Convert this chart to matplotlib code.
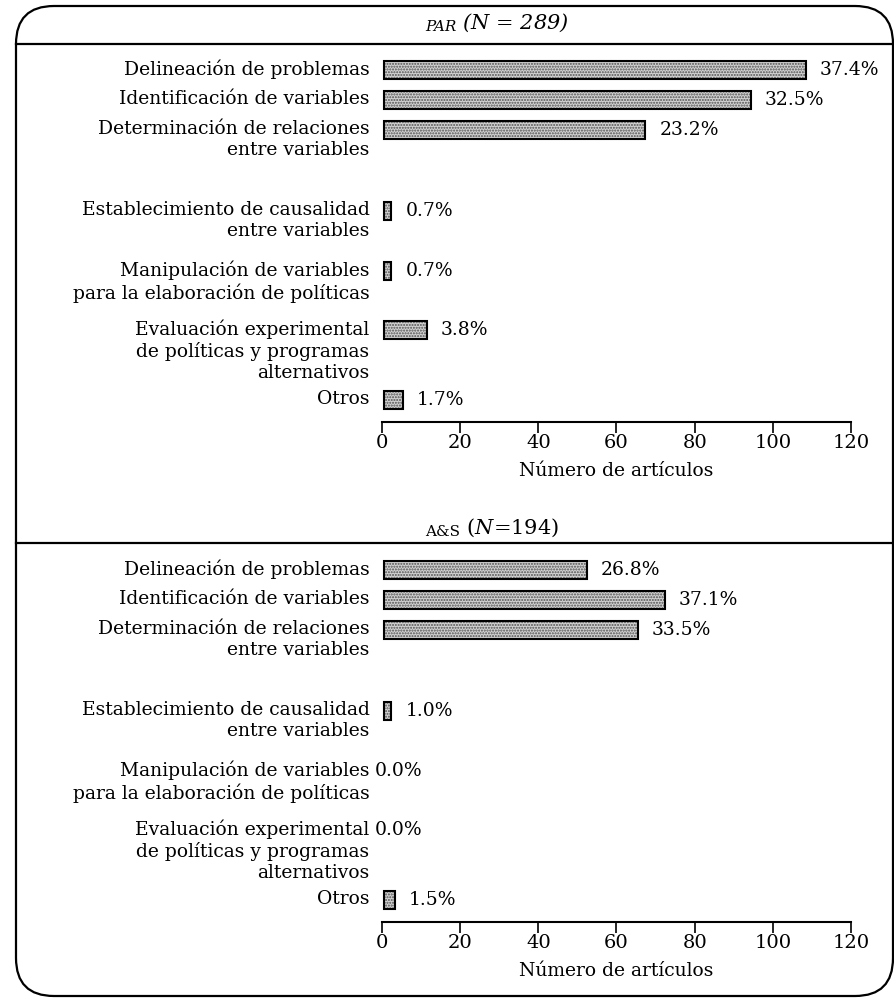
import matplotlib.pyplot as plt
from matplotlib.patches import FancyBboxPatch
import numpy as np

plt.rcParams['font.family'] = ['DejaVu Serif']
plt.rcParams['mathtext.fontset'] = 'dejavuserif'

# categories (multi-line labels as in the original)
categories = [
    'Delineación de problemas',
    'Identificación de variables',
    'Determinación de relaciones\nentre variables',
    'Establecimiento de causalidad\nentre variables',
    'Manipulación de variables\npara la elaboración de políticas',
    'Evaluación experimental\nde políticas y programas\nalternativos',
    'Otros',
]

# PAR (N = 289)
par_counts = [108, 94, 67, 2, 2, 11, 5]
par_pct = [37.4, 32.5, 23.2, 0.7, 0.7, 3.8, 1.7]

# A&S (N = 194)
as_counts = [52, 72, 65, 2, 0, 0, 3]
as_pct = [26.8, 37.1, 33.5, 1.0, 0.0, 0.0, 1.5]

xticks = [0, 20, 40, 60, 80, 100, 120]

# vertical slot of each category (leaves room for the wrapped labels)
ypos = np.array([0, 1, 2, 4.7, 6.7, 8.65, 11])

W, H = 895, 1000
fig = plt.figure(figsize=(W / 100, H / 100), dpi=100)

# background axes in pixel units for the rounded frame and headers
bg = fig.add_axes([0, 0, 1, 1], zorder=-1)
bg.set_xlim(0, W)
bg.set_ylim(H, 0)
bg.axis('off')
frame = FancyBboxPatch((16, 6), 877, 990, boxstyle='round,pad=0,rounding_size=38',
                       fill=False, edgecolor='black', linewidth=1.6)
bg.add_patch(frame)
bg.plot([16, 893], [44, 44], color='black', lw=1.6)
bg.plot([16, 893], [543, 543], color='black', lw=1.6)

t1 = bg.text(425, 31, 'PAR', fontsize=11, style='italic', va='baseline')
bg.annotate(' ($N$ = 289)', xy=(1, 0), xycoords=t1, fontsize=15,
            style='italic', va='bottom')
t2 = bg.text(425, 536, 'A&S', fontsize=11, va='baseline')
bg.annotate(' ($N$=194)', xy=(1, 0), xycoords=t2, fontsize=15, va='bottom')


def draw_panel(bottom_px, counts, pct):
    # axes spans x 382..851 px, bottom spine at bottom_px
    ax = fig.add_axes([382 / W, 1 - bottom_px / H, 469 / W, 376 / H])
    counts = np.array(counts, dtype=float)
    nz = counts > 0
    ax.barh(ypos[nz], counts[nz], height=0.6, left=0.4, color='#d2d2d2',
            edgecolor='#505050', linewidth=0, hatch='......')
    ax.barh(ypos[nz], counts[nz], height=0.6, left=0.4, fill=False,
            edgecolor='black', linewidth=1.5)
    for y, c, p in zip(ypos, counts, pct):
        if c > 0:
            ax.annotate(f'{p:.1f}%', xy=(c + 0.4, y), xytext=(10, 0),
                        textcoords='offset points', va='center', fontsize=13.5)
        else:
            ax.annotate(f'{p:.1f}%', xy=(0, y), xytext=(-5, 0),
                        textcoords='offset points', va='center', fontsize=13.5)
    for y, lab in zip(ypos, categories):
        ax.annotate(lab, xy=(0, y - 0.34), xytext=(-9, 0),
                    textcoords='offset points', ha='right', va='top',
                    fontsize=13.5, linespacing=1.2)
    ax.set_xlim(0, 120)
    ax.set_ylim(11.73, -0.8)
    ax.set_xticks(xticks)
    ax.set_yticks([])
    for s in ['top', 'left', 'right']:
        ax.spines[s].set_visible(False)
    ax.spines['bottom'].set_linewidth(1.5)
    ax.tick_params(axis='x', direction='out', length=8, width=1.2,
                   labelsize=14, pad=1)
    ax.set_xlabel('Número de artículos', fontsize=13.5, labelpad=7)
    ax.patch.set_visible(False)
    return ax


draw_panel(422, par_counts, par_pct)
draw_panel(922, as_counts, as_pct)

fig.savefig('out.png', dpi=100)
